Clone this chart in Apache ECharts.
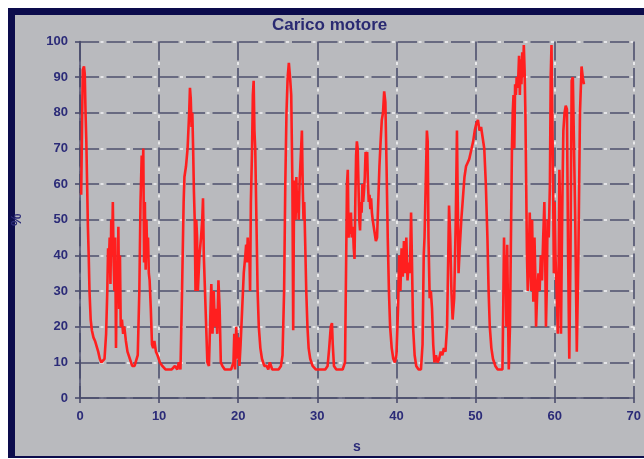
<!DOCTYPE html>
<html>
<head>
<meta charset="utf-8">
<script src="https://cdn.jsdelivr.net/npm/echarts@6/dist/echarts.min.js"></script>
<style>
html,body{margin:0;padding:0;background:#ffffff;}
#wrap{position:relative;width:644px;height:459px;overflow:hidden;background:#ffffff;}
#frame{position:absolute;left:8px;top:8px;width:636px;height:450px;background:#0c0c4c;}
#panel{position:absolute;left:15px;top:15px;width:629px;height:441px;background:#b9babe;}
#chart{position:absolute;left:0;top:0;width:644px;height:459px;}
</style>
</head>
<body>
<div id="wrap"><div id="frame"></div><div id="panel"></div><div id="chart"></div></div>
<script>
// Time (s) and engine load (%)
const timeS = [0.15,0.25,0.35,0.5,0.6,0.7,0.8,0.9,1.0,1.1,1.2,1.35,1.5,1.7,1.9,2.1,2.3,2.5,2.7,2.9,3.1,3.3,3.45,3.55,3.65,3.75,3.85,3.95,4.05,4.15,4.25,4.35,4.45,4.55,4.65,4.75,4.85,4.95,5.05,5.15,5.3,5.45,5.6,5.8,6.0,6.3,6.6,6.9,7.1,7.3,7.5,7.65,7.8,7.9,8.0,8.1,8.2,8.3,8.4,8.5,8.6,8.7,8.8,8.95,9.1,9.25,9.4,9.6,9.8,10.1,10.4,10.8,11.2,11.6,12.0,12.3,12.5,12.7,12.9,13.1,13.2,13.4,13.6,13.8,13.9,14.0,14.1,14.2,14.3,14.4,14.5,14.6,14.7,14.8,14.9,15.1,15.3,15.45,15.55,15.65,15.8,15.95,16.1,16.3,16.5,16.6,16.75,16.9,17.05,17.2,17.35,17.5,17.65,17.8,18.0,18.3,18.7,19.1,19.4,19.5,19.6,19.75,19.9,20.0,20.15,20.3,20.5,20.7,20.9,21.0,21.1,21.2,21.3,21.4,21.5,21.6,21.75,21.85,21.95,22.05,22.15,22.3,22.45,22.6,22.8,23.0,23.3,23.6,23.8,24.0,24.3,24.7,25.1,25.4,25.6,25.8,25.95,26.1,26.25,26.4,26.55,26.7,26.85,26.95,27.05,27.15,27.25,27.35,27.45,27.55,27.65,27.75,27.85,27.95,28.05,28.15,28.25,28.35,28.45,28.6,28.75,28.9,29.1,29.4,29.8,30.2,30.6,31.0,31.3,31.5,31.7,31.85,31.95,32.1,32.4,32.8,33.2,33.5,33.65,33.75,33.85,33.95,34.05,34.15,34.25,34.35,34.5,34.6,34.7,34.8,34.9,35.0,35.1,35.2,35.3,35.4,35.5,35.6,35.7,35.8,35.9,36.0,36.1,36.2,36.3,36.4,36.5,36.6,36.7,36.8,36.9,37.0,37.2,37.4,37.55,37.7,37.85,38.0,38.15,38.3,38.45,38.6,38.75,38.9,39.05,39.2,39.4,39.6,39.8,40.0,40.2,40.35,40.5,40.65,40.8,40.95,41.1,41.25,41.4,41.55,41.7,41.85,41.95,42.1,42.3,42.5,42.8,43.1,43.3,43.45,43.55,43.7,43.85,43.95,44.05,44.2,44.35,44.5,44.65,44.8,45.0,45.2,45.4,45.6,45.8,46.0,46.2,46.4,46.55,46.65,46.8,46.95,47.1,47.3,47.5,47.65,47.75,47.85,48.0,48.2,48.4,48.6,48.8,49.0,49.2,49.5,49.7,49.9,50.1,50.3,50.5,50.7,50.9,51.1,51.3,51.5,51.65,51.8,52.0,52.2,52.5,52.8,53.1,53.4,53.5,53.6,53.7,53.8,53.9,54.0,54.1,54.2,54.35,54.5,54.6,54.7,54.8,54.9,55.0,55.1,55.2,55.35,55.5,55.6,55.7,55.8,55.9,56.0,56.1,56.2,56.3,56.4,56.5,56.6,56.7,56.85,56.95,57.05,57.15,57.3,57.45,57.55,57.65,57.8,57.95,58.1,58.25,58.4,58.55,58.7,58.8,58.9,59.0,59.1,59.25,59.4,59.5,59.6,59.7,59.8,59.9,60.0,60.1,60.25,60.4,60.5,60.6,60.7,60.8,60.9,61.0,61.1,61.25,61.4,61.55,61.7,61.85,62.0,62.15,62.3,62.45,62.6,62.8,63.0,63.2,63.4,63.55,63.7,63.85,64.0,64.1];
const loadPct = [57,75,92,93,91,80,72,60,48,40,30,22,19,17,16,16,13,11,10,10,11,18,30,42,38,45,32,50,40,55,38,30,45,14,35,28,48,25,40,20,22,18,20,16,13,11,9,9,9,12,30,55,68,60,70,38,55,36,50,40,45,35,33,25,15,14,16,13,12,10,9,8,8,8,9,8,10,8,30,55,62,65,70,80,87,84,76,80,70,58,50,30,50,45,30,40,45,50,56,40,30,20,10,9,25,32,18,30,20,25,18,33,25,10,9,8,8,8,10,18,8,20,11,17,9,15,25,35,40,43,38,45,40,42,30,55,70,85,89,75,70,50,30,20,14,11,9,9,8,10,8,8,8,9,12,30,60,80,90,94,90,85,60,19,55,61,50,62,52,58,50,60,65,70,75,60,50,55,45,30,20,14,11,9,8,8,8,8,9,14,20,21,15,9,8,8,8,10,40,60,64,45,50,46,52,45,48,42,39,55,68,72,70,60,50,47,55,52,60,55,58,62,69,68,69,60,55,57,53,56,52,50,47,44,45,55,65,72,78,80,86,83,65,45,30,20,14,11,10,12,25,40,30,42,34,44,35,45,33,38,35,52,40,20,12,9,8,8,15,40,45,60,75,72,45,28,30,25,15,10,12,10,11,13,12,14,13,20,40,54,45,30,22,28,50,75,55,35,42,50,56,62,65,66,67,70,72,75,77,78,75,76,73,70,60,45,30,20,14,11,9,8,8,8,25,45,30,40,20,43,25,8,20,50,70,80,85,70,88,85,90,87,96,85,95,88,97,90,99,92,80,60,40,30,35,52,40,30,50,27,45,35,20,30,35,30,40,33,45,55,40,20,30,50,45,60,90,99,80,60,35,55,40,30,18,35,64,50,18,40,60,75,80,82,81,40,11,40,89,90,90,50,13,40,80,93,90,88];
const xTicks = [0,10,20,30,40,50,60,70];
const yTicks = [0,10,20,30,40,50,60,70,80,90,100];
const titleText = 'Carico motore';
const xName = 's';
const yName = '%';

const series = timeS.map((t, i) => [t, loadPct[i]]);
const navy = '#2b2b78';
const lblFont = {color: navy, fontWeight: 'bold', fontSize: 13, fontFamily: 'Liberation Sans, Arial, sans-serif'};
const nameFont = {color: navy, fontWeight: 'bold', fontSize: 14, fontFamily: 'Liberation Sans, Arial, sans-serif'};
const darkDash = {color: '#4e506e', width: 1.6, type: [19, 7.5], dashOffset: 0};
const whiteDot = {color: '#f4f4f6', width: 1.6, type: [3, 23.5], dashOffset: 6};

const chart = echarts.init(document.getElementById('chart'), null, {renderer: 'canvas'});
chart.setOption({
  backgroundColor: 'transparent',
  animation: false,
  title: {
    text: titleText, left: 272, top: 17, padding: 0,
    textStyle: {color: '#2a2a72', fontWeight: 'bold', fontSize: 17, fontFamily: 'Liberation Sans, Arial, sans-serif'}
  },
  grid: {left: 80, right: 9, top: 41.5, bottom: 54, containLabel: false},
  xAxis: [{
    type: 'value', min: xTicks[0], max: xTicks[xTicks.length - 1], interval: 10,
    name: xName, nameLocation: 'middle', nameGap: 42, nameTextStyle: nameFont,
    axisLine: {show: true, onZero: false, lineStyle: {color: '#4a4c6c', width: 1.6}},
    axisTick: {show: true, length: 5, inside: false, lineStyle: {color: '#4a4c6c', width: 1.6}},
    axisLabel: Object.assign({margin: 12}, lblFont),
    splitLine: {show: true, lineStyle: darkDash}
  }, {
    type: 'value', min: xTicks[0], max: xTicks[xTicks.length - 1], interval: 10,
    axisLine: {show: false}, axisTick: {show: false}, axisLabel: {show: false},
    splitLine: {show: true, lineStyle: whiteDot}
  }],
  yAxis: [{
    type: 'value', min: yTicks[0], max: yTicks[yTicks.length - 1], interval: 10,
    name: yName, nameLocation: 'middle', nameGap: 56, nameRotate: 90, nameTextStyle: nameFont,
    axisLine: {show: true, onZero: false, lineStyle: {color: '#4a4c6c', width: 1.6}},
    axisTick: {show: true, length: 5, inside: false, lineStyle: {color: '#4a4c6c', width: 1.6}},
    axisLabel: Object.assign({margin: 12}, lblFont),
    splitLine: {show: true, lineStyle: darkDash}
  }, {
    type: 'value', min: yTicks[0], max: yTicks[yTicks.length - 1], interval: 10,
    axisLine: {show: false}, axisTick: {show: false}, axisLabel: {show: false},
    splitLine: {show: true, lineStyle: whiteDot}
  }],
  series: [{
    type: 'line', data: series, xAxisIndex: 0, yAxisIndex: 0,
    showSymbol: false, symbol: 'none', smooth: false,
    lineStyle: {color: '#ff1f1f', width: 2.6},
    z: 5
  }]
});
</script>
</body>
</html>
